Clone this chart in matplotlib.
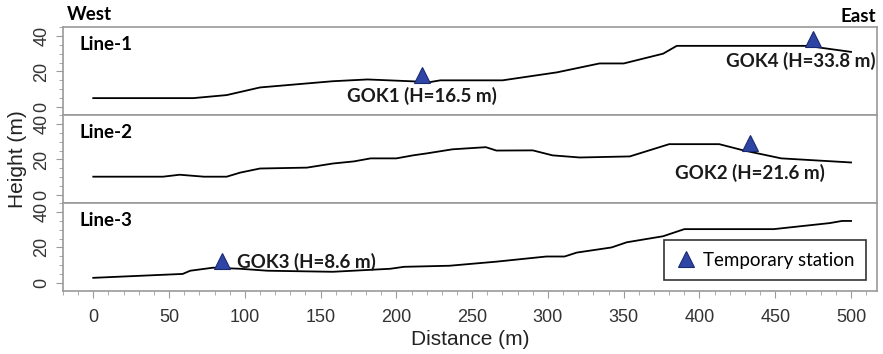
import matplotlib.pyplot as plt
from matplotlib.ticker import MultipleLocator

plt.rcParams["font.family"] = ["Liberation Sans", "DejaVu Sans"]

# profile data (distance m, height m)
line1_d = [0, 66, 88, 110, 158, 181, 209, 222, 229, 270, 306, 334, 350, 376, 385, 471, 500]
line1_h = [5, 5, 6.7, 11, 14.5, 15.5, 14.5, 14, 15, 15, 19.5, 24.5, 24.5, 30, 34.4, 34.4, 31]

line2_d = [0, 46, 57, 73, 88, 97, 110, 141, 158, 172, 183, 200, 211, 220, 237, 259, 266,
           290, 303, 321, 354, 380, 413, 429, 454, 500]
line2_h = [10.3, 10.3, 11.4, 10.3, 10.3, 12.6, 14.9, 15.4, 17.7, 18.9, 20.6, 20.6, 22.3,
           23.4, 25.7, 26.9, 25.0, 25.1, 22.3, 21.1, 21.7, 28.6, 28.6, 25.1, 20.6, 18.3]

line3_d = [0, 59, 64, 79, 97, 115, 158, 196, 205, 235, 266, 299, 311, 319, 342, 352, 376,
           390, 449, 486, 494, 500]
line3_h = [2.9, 5.1, 6.9, 8.6, 8.0, 6.9, 6.3, 8.0, 9.1, 9.7, 12.0, 14.9, 14.9, 17.1, 20.0,
           22.9, 26.3, 30.3, 30.3, 33.7, 34.9, 34.9]

names = ["Line-1", "Line-2", "Line-3"]
dists = [line1_d, line2_d, line3_d]
heights = [line1_h, line2_h, line3_h]

# stations: panel index, distance, marker height, label
st_panel = [0, 0, 1, 2]
st_d = [217, 475, 433, 85]
st_h = [18, 38.5, 29, 12.6]
st_labels = ["GOK1 (H=16.5 m)", "GOK4 (H=33.8 m)", "GOK2 (H=21.6 m)", "GOK3 (H=8.6 m)"]
lab_pos = [(217, 6, "center"), (516, 26, "right"), (433, 12.6, "center"), (95, 11.6, "left")]

frame = "#9a9a9a"
tri_face = "#2f45a6"
tri_edge = "#1b2a6e"
cal = ["Lato", "DejaVu Sans"]

fig, axes = plt.subplots(3, 1, figsize=(8.83, 3.54), dpi=100, sharex=True)
fig.subplots_adjust(left=0.0713, right=0.993, top=0.9237, bottom=0.178, hspace=0)

for i, ax in enumerate(axes):
    ax.plot(dists[i], heights[i], color="black", lw=1.3)
    ax.set_xlim(-20, 517)
    ax.set_ylim(-4.5, 45)
    ax.set_yticks([0, 20, 40])
    ax.set_yticklabels(["0", "20", "40"], rotation=90, va="center", fontsize=13)
    ax.yaxis.set_minor_locator(MultipleLocator(5))
    ax.xaxis.set_major_locator(MultipleLocator(50))
    ax.xaxis.set_minor_locator(MultipleLocator(10))
    for s in ax.spines.values():
        s.set_color(frame)
        s.set_linewidth(1.2)
    ax.tick_params(axis="both", which="both", color=frame, direction="out")
    ax.tick_params(axis="both", which="major", length=5, labelcolor="#333333", labelsize=13)
    ax.tick_params(axis="y", which="major", pad=4)
    ax.tick_params(axis="x", which="major", pad=8)
    ax.tick_params(axis="both", which="minor", length=3)
    ax.text(0.02, 0.9, names[i], transform=ax.transAxes, ha="left", va="top",
            fontsize=13.5, fontweight="bold", family=cal)

for p, d, h in zip(st_panel, st_d, st_h):
    axes[p].plot(d, h, marker="^", ms=11, color=tri_face, mec=tri_edge, mew=0.8, ls="none")

for p, (x, y, ha), txt in zip(st_panel, lab_pos, st_labels):
    axes[p].text(x, y, txt, ha=ha, va="center", fontsize=13.5, fontweight="bold",
                 family=cal, color="#1a1a1a")

axes[2].set_xlabel("Distance (m)", fontsize=15, labelpad=3, color="#222222")
fig.text(0.02, 0.55, "Height (m)", rotation=90, ha="center", va="center", fontsize=15,
         color="#222222")

fig.text(67 / 883, 1 - 15 / 354, "West", ha="left", va="center", fontsize=13.5,
         fontweight="bold", family=cal)
fig.text(876 / 883, 1 - 17 / 354, "East", ha="right", va="center", fontsize=13.5,
         fontweight="bold", family=cal)

h, = axes[2].plot([], [], marker="^", ms=11, color=tri_face, mec=tri_edge, mew=0.8, ls="none")
leg = axes[2].legend([h], ["Temporary station"], loc="lower right", fancybox=False,
                     framealpha=1, edgecolor="#333333", prop={"family": cal, "size": 13.5},
                     handletextpad=0.3, handlelength=1.2, borderpad=0.6,
                     bbox_to_anchor=(0.998, 0.02))
leg.get_frame().set_linewidth(1.2)

fig.savefig("out.png", dpi=100)
